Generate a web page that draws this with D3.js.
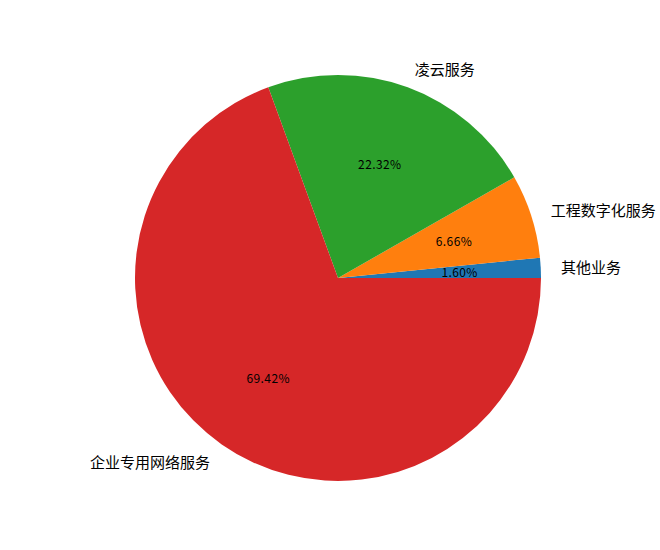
<!DOCTYPE html>
<html>
<head>
<meta charset="utf-8">
<script src="https://cdn.jsdelivr.net/npm/d3@7"></script>
<style>
  body { margin: 0; background: #fff; }
  svg text { font-family: "Noto Sans CJK SC", "DejaVu Sans", sans-serif; }
</style>
</head>
<body>
<svg id="chart"></svg>
<script>
// 业务收入占比
const categories = ['其他业务', '工程数字化服务', '凌云服务', '企业专用网络服务'];
const shares = [1.60, 6.66, 22.32, 69.42];
const colors = ['#1f77b4', '#ff7f0e', '#2ca02c', '#d62728'];

const width = 660;
const height = 550;
const cx = 338, cy = 278, radius = 203;

const svg = d3.select('#chart')
    .attr('width', width)
    .attr('height', height);

const g = svg.append('g').attr('transform', `translate(${cx},${cy})`);

// matplotlib 风格: 从3点钟方向开始, 逆时针
const pie = d3.pie()
    .sort(null)
    .value(d => d.value)
    .startAngle(Math.PI / 2)
    .endAngle(Math.PI / 2 - 2 * Math.PI);

const data = categories.map((c, i) => ({ name: c, value: shares[i], color: colors[i] }));
const arcs = pie(data);

const arc = d3.arc().innerRadius(0).outerRadius(radius);

g.selectAll('path')
    .data(arcs)
    .enter()
    .append('path')
    .attr('d', arc)
    .attr('fill', d => d.data.color);

function pos(d, k) {
    const a = (d.startAngle + d.endAngle) / 2;
    return [Math.sin(a) * radius * k, -Math.cos(a) * radius * k];
}

// 百分比
g.selectAll('text.pct')
    .data(arcs)
    .enter()
    .append('text')
    .attr('class', 'pct')
    .attr('x', d => pos(d, 0.6)[0])
    .attr('y', d => pos(d, 0.6)[1])
    .attr('text-anchor', 'middle')
    .attr('dominant-baseline', 'central')
    .attr('font-size', 12)
    .attr('letter-spacing', 0.4)
    .attr('fill', '#000')
    .text(d => d.data.value.toFixed(2) + '%');

// 类别标签
g.selectAll('text.lbl')
    .data(arcs)
    .enter()
    .append('text')
    .attr('class', 'lbl')
    .attr('x', d => pos(d, 1.1)[0])
    .attr('y', d => pos(d, 1.1)[1])
    .attr('text-anchor', d => pos(d, 1.1)[0] >= 0 ? 'start' : 'end')
    .attr('dominant-baseline', 'central')
    .attr('font-size', 15)
    .attr('fill', '#000')
    .text(d => d.data.name);
</script>
</body>
</html>
